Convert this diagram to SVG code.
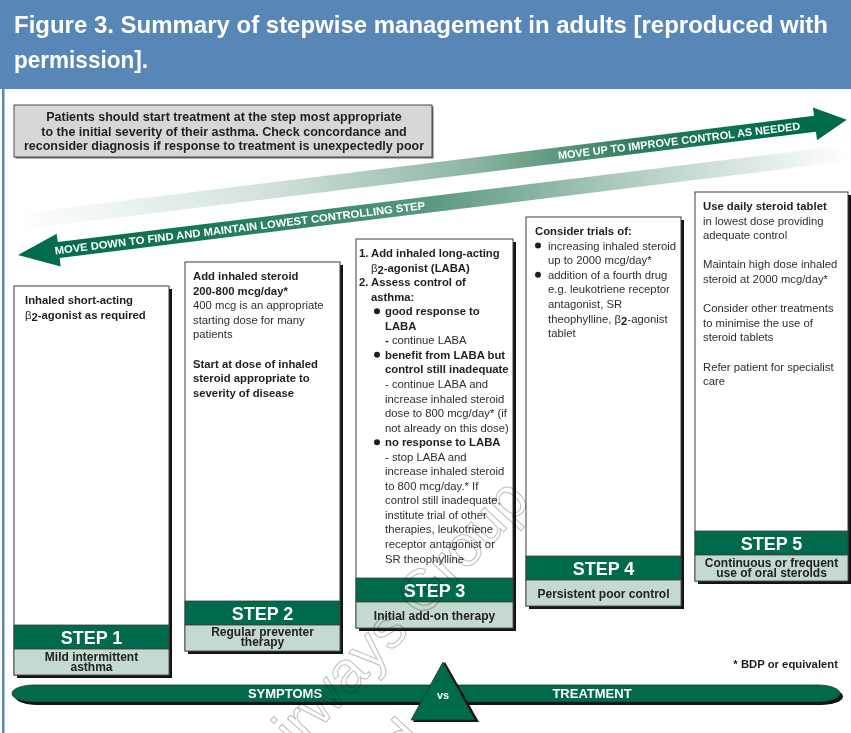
<svg xmlns="http://www.w3.org/2000/svg" width="851" height="733" viewBox="0 0 851 733">
  <defs>
    <linearGradient id="gradUp" gradientUnits="userSpaceOnUse" x1="0" y1="0" x2="838" y2="0">
      <stop offset="0" stop-color="#ffffff"/>
      <stop offset="0.3" stop-color="#d3e3db"/>
      <stop offset="0.55" stop-color="#8db5a2"/>
      <stop offset="0.75" stop-color="#2e7c5d"/>
      <stop offset="0.92" stop-color="#006a4d"/>
    </linearGradient>
    <linearGradient id="gradDown" gradientUnits="userSpaceOnUse" x1="0" y1="0" x2="836" y2="0">
      <stop offset="0" stop-color="#006a4d"/>
      <stop offset="0.2" stop-color="#137555"/>
      <stop offset="0.5" stop-color="#5b9a80"/>
      <stop offset="0.75" stop-color="#b5d0c3"/>
      <stop offset="1" stop-color="#ffffff"/>
    </linearGradient>
  </defs>
  <style>
    text { font-family: "Liberation Sans", Arial, sans-serif; }
    .t { font-size: 11.3px; fill: #2e2e2e; }
    .b { font-weight: bold; fill: #1f1f1f; }
    .n { font-weight: normal; }
    .note { font-size: 12.5px; font-weight: bold; fill: #1f1f1f; text-anchor: middle; }
    .step { font-size: 18px; font-weight: bold; fill: #ffffff; text-anchor: middle; }
    .lab { font-size: 12px; font-weight: bold; fill: #222222; text-anchor: middle; }
    .box { fill: #ffffff; stroke: #3c3c3c; stroke-width: 1; }
    .shadow { fill: #141414; }
    .green { fill: #006a4d; stroke: #3c3c3c; stroke-width: 0.8; }
    .light { fill: #c4d9cf; stroke: #3c3c3c; stroke-width: 0.8; }
    .dot { fill: #1f1f1f; }
    .arrowtext { font-size: 10.8px; font-weight: bold; fill: #ffffff; }
    .bartext { font-size: 13px; font-weight: bold; fill: #ffffff; text-anchor: middle; }
    .mark { font-size: 58px; fill: none; stroke: #bdbdbd; stroke-width: 1; mix-blend-mode: multiply; }
  </style>

  <rect width="851" height="733" fill="#ffffff"/>

  <!-- title band -->
  <g id="title">
    <rect x="0" y="0" width="851" height="89" fill="#5786b7"/>
    <text x="14" y="33" font-family="'Open Sans', sans-serif" font-weight="600" font-size="24" fill="#ffffff" textLength="814" lengthAdjust="spacingAndGlyphs">Figure 3. Summary of stepwise management in adults [reproduced with</text>
    <text x="14" y="68" font-family="'Open Sans', sans-serif" font-weight="600" font-size="24" fill="#ffffff" textLength="134" lengthAdjust="spacingAndGlyphs">permission].</text>
  </g>
  <rect x="2" y="89" width="2.5" height="644" fill="#5786b7"/>

  <!-- advice box -->
  <g id="advice">
    <rect x="15.5" y="106.5" width="418" height="52" fill="#666666"/>
    <rect x="14" y="105" width="418" height="52" fill="#d7d7d7" stroke="#4a4a4a" stroke-width="1"/>
    <text class="note" x="224" y="121">Patients should start treatment at the step most appropriate</text>
    <text class="note" x="224" y="135.5">to the initial severity of their asthma.  Check concordance and</text>
    <text class="note" x="224" y="150">reconsider diagnosis if response to treatment is unexpectedly poor</text>
  </g>

  <!-- direction arrows -->
  <g id="connectors">
    <g id="arrow-up" transform="translate(15,222) rotate(-7)">
      <polygon points="0,-8 806,-8 806,-16.5 838,0 806,16.5 806,8 0,8" fill="url(#gradUp)"/>
      <text class="arrowtext" x="547" y="4" textLength="244" lengthAdjust="spacingAndGlyphs">MOVE UP TO IMPROVE CONTROL AS NEEDED</text>
    </g>
    <g id="arrow-down" transform="translate(18,255) rotate(-7)">
      <polygon points="0,0 41,-16.5 41,-8 836,-8 836,8 41,8 41,16.5" fill="url(#gradDown)"/>
      <text class="arrowtext" x="37" y="4" textLength="373" lengthAdjust="spacingAndGlyphs">MOVE DOWN TO FIND AND MAINTAIN LOWEST CONTROLLING STEP</text>
    </g>
  </g>

  <!-- step 1 -->
  <g id="step1">
    <rect class="shadow" x="17" y="289" width="155" height="389"/>
    <rect class="box" x="14" y="286" width="155" height="389"/>
    <rect class="green" x="14" y="625" width="155" height="24"/>
    <rect class="light" x="14" y="649" width="155" height="26"/>
    <text class="step" x="91.5" y="643.5">STEP 1</text>
    <text class="lab" x="91.5" y="661">Mild intermittent</text>
    <text class="lab" x="91.5" y="671">asthma</text>
    <text class="t b" x="25" y="304">Inhaled short-acting</text>
    <text class="t b" x="25" y="318.6"><tspan class="n">β</tspan><tspan dy="2.5">2</tspan><tspan dy="-2.5">-agonist as required</tspan></text>
  </g>

  <!-- step 2 -->
  <g id="step2">
    <rect class="shadow" x="188" y="265" width="155" height="389"/>
    <rect class="box" x="185" y="262" width="155" height="389"/>
    <rect class="green" x="185" y="601" width="155" height="24"/>
    <rect class="light" x="185" y="625" width="155" height="26"/>
    <text class="step" x="262.5" y="619.5">STEP 2</text>
    <text class="lab" x="262.5" y="636">Regular preventer</text>
    <text class="lab" x="262.5" y="646">therapy</text>
    <text class="t b" x="193" y="280">Add inhaled steroid</text>
    <text class="t b" x="193" y="294.6">200-800 mcg/day*</text>
    <text class="t" x="193" y="309.2">400 mcg is an appropriate</text>
    <text class="t" x="193" y="323.8">starting dose for many</text>
    <text class="t" x="193" y="338.4">patients</text>
    <text class="t b" x="193" y="367.6">Start at dose of inhaled</text>
    <text class="t b" x="193" y="382.2">steroid appropriate to</text>
    <text class="t b" x="193" y="396.8">severity of disease</text>
  </g>

  <!-- step 3 -->
  <g id="step3">
    <rect class="shadow" x="359" y="242" width="157" height="389"/>
    <rect class="box" x="356" y="239" width="157" height="389"/>
    <rect class="green" x="356" y="578" width="157" height="24"/>
    <rect class="light" x="356" y="602" width="157" height="26"/>
    <text class="step" x="434.5" y="596.5">STEP 3</text>
    <text class="lab" x="434.5" y="619.5">Initial add-on therapy</text>
    <text class="t b" x="359" y="257">1.</text>
    <text class="t b" x="371" y="257">Add inhaled long-acting</text>
    <text class="t b" x="371" y="271.55"><tspan class="n">β</tspan><tspan dy="2.5">2</tspan><tspan dy="-2.5">-agonist (LABA)</tspan></text>
    <text class="t b" x="359" y="286.1">2.</text>
    <text class="t b" x="371" y="286.1">Assess control of</text>
    <text class="t b" x="371" y="300.65">asthma:</text>
    <circle class="dot" cx="377" cy="311.2" r="3"/>
    <text class="t b" x="385" y="315.2">good response to</text>
    <text class="t b" x="385" y="329.75">LABA</text>
    <text class="t" x="385" y="344.3"><tspan class="b">-</tspan> continue LABA</text>
    <circle class="dot" cx="377" cy="354.85" r="3"/>
    <text class="t b" x="385" y="358.85">benefit from LABA but</text>
    <text class="t b" x="385" y="373.4">control still inadequate</text>
    <text class="t" x="385" y="387.95">- continue LABA and</text>
    <text class="t" x="385" y="402.5">increase inhaled steroid</text>
    <text class="t" x="385" y="417.05">dose to 800 mcg/day* (if</text>
    <text class="t" x="385" y="431.6">not already on this dose)</text>
    <circle class="dot" cx="377" cy="442.15" r="3"/>
    <text class="t b" x="385" y="446.15">no response to LABA</text>
    <text class="t" x="385" y="460.7">- stop LABA and</text>
    <text class="t" x="385" y="475.25">increase inhaled steroid</text>
    <text class="t" x="385" y="489.8">to 800 mcg/day.* If</text>
    <text class="t" x="385" y="504.35">control still inadequate,</text>
    <text class="t" x="385" y="518.9">institute trial of other</text>
    <text class="t" x="385" y="533.45">therapies, leukotriene</text>
    <text class="t" x="385" y="548">receptor antagonist or</text>
    <text class="t" x="385" y="562.55">SR theophylline</text>
  </g>

  <!-- step 4 -->
  <g id="step4">
    <rect class="shadow" x="529" y="220" width="155" height="389"/>
    <rect class="box" x="526" y="217" width="155" height="389"/>
    <rect class="green" x="526" y="556" width="155" height="24"/>
    <rect class="light" x="526" y="580" width="155" height="26"/>
    <text class="step" x="603.5" y="574.5">STEP 4</text>
    <text class="lab" x="603.5" y="597.5">Persistent poor control</text>
    <text class="t b" x="535" y="235">Consider trials of:</text>
    <circle class="dot" cx="538" cy="245.6" r="3"/>
    <text class="t" x="548" y="249.6">increasing inhaled steroid</text>
    <text class="t" x="548" y="264.2">up to 2000 mcg/day*</text>
    <circle class="dot" cx="538" cy="274.8" r="3"/>
    <text class="t" x="548" y="278.8">addition of a fourth drug</text>
    <text class="t" x="548" y="293.4">e.g. leukotriene receptor</text>
    <text class="t" x="548" y="308">antagonist, SR</text>
    <text class="t" x="548" y="322.6">theophylline, β<tspan class="b" dy="2.5">2</tspan><tspan dy="-2.5">-agonist</tspan></text>
    <text class="t" x="548" y="337.2">tablet</text>
  </g>

  <!-- step 5 -->
  <g id="step5">
    <rect class="shadow" x="698" y="195" width="153" height="389"/>
    <rect class="box" x="695" y="192" width="153" height="389"/>
    <rect class="green" x="695" y="531" width="153" height="24"/>
    <rect class="light" x="695" y="555" width="153" height="26"/>
    <text class="step" x="771.5" y="549.5">STEP 5</text>
    <text class="lab" x="771.5" y="567">Continuous or frequent</text>
    <text class="lab" x="771.5" y="577">use of oral steroids</text>
    <text class="t b" x="703" y="210">Use daily steroid tablet</text>
    <text class="t" x="703" y="224.6">in lowest dose providing</text>
    <text class="t" x="703" y="239.2">adequate control</text>
    <text class="t" x="703" y="268.4">Maintain high dose inhaled</text>
    <text class="t" x="703" y="283">steroid at 2000 mcg/day*</text>
    <text class="t" x="703" y="312.2">Consider other treatments</text>
    <text class="t" x="703" y="326.8">to minimise the use of</text>
    <text class="t" x="703" y="341.4">steroid tablets</text>
    <text class="t" x="703" y="370.6">Refer patient for specialist</text>
    <text class="t" x="703" y="385.2">care</text>
  </g>

  <!-- footnote -->
  <text class="t b" x="838" y="668" text-anchor="end">* BDP or equivalent</text>

  <!-- symptoms vs treatment balance -->
  <g id="balance">
    <rect x="15" y="688" width="828" height="17" rx="22" ry="8.5" fill="#141414"/>
    <rect x="12" y="685" width="828" height="17" rx="22" ry="8.5" fill="#006a4d" stroke="#2c2c2c" stroke-width="0.8"/>
    <text class="bartext" x="285" y="698">SYMPTOMS</text>
    <text class="bartext" x="592" y="698">TREATMENT</text>
    <polygon points="445,662 479,722 413,722" fill="#141414"/>
    <polygon points="443,662 475,720 411,720" fill="#006a4d" stroke="#2c2c2c" stroke-width="0.8"/>
    <text x="443" y="699" font-size="11" font-weight="bold" fill="#ffffff" text-anchor="middle">vs</text>
  </g>

  <!-- watermark -->
  <g id="watermark">
    <text class="mark" transform="translate(272,780) rotate(-47)">Airways Group</text>
    <text class="mark" text-anchor="end" transform="translate(428,742) rotate(-47)">ed</text>
  </g>
</svg>
